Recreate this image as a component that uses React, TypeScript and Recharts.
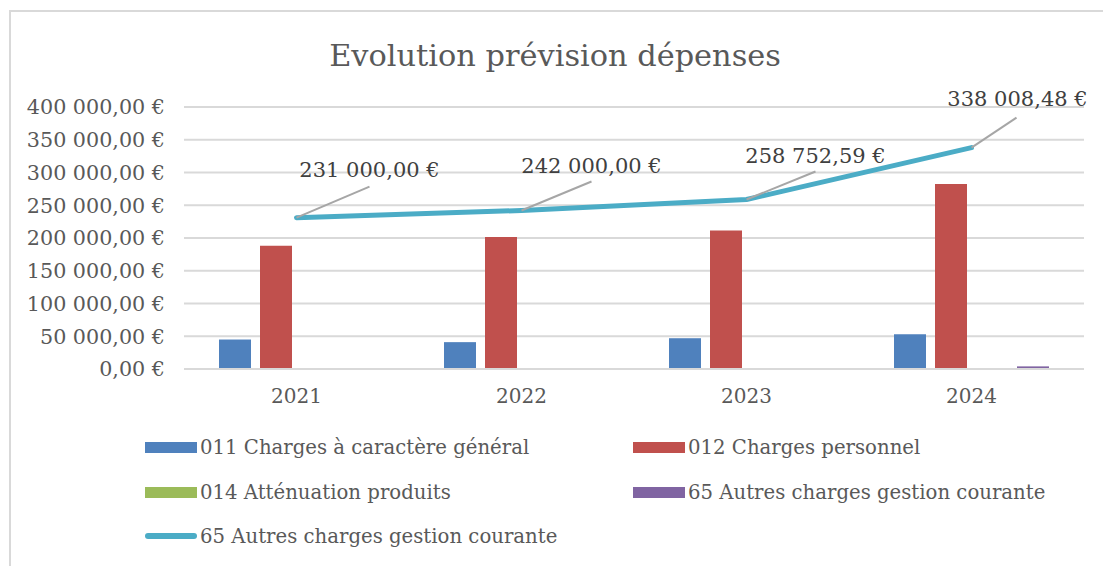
import { ComposedChart, Bar, Line, XAxis, YAxis, CartesianGrid, LabelList } from 'recharts'

const years = ['2021', '2022', '2023', '2024']
const chargesGenerales = [45000, 41000, 47000, 53000]
const chargesPersonnel = [188000, 201500, 211500, 282500]
const attenuationProduits = [0, 0, 0, 0]
const autresChargesBar = [0, 0, 0, 4000]
const autresChargesLine = [231000, 242000, 258752.59, 338008.48]
const yTicks = [0, 50000, 100000, 150000, 200000, 250000, 300000, 350000, 400000]

const seriesNames = [
  '011 Charges à caractère général',
  '012 Charges personnel',
  '014 Atténuation produits',
  '65 Autres charges gestion courante',
  '65 Autres charges gestion courante',
]
const colors = ['#4F81BD', '#C0504D', '#9BBB59', '#8064A2', '#4BACC6']

const data = years.map((year, i) => ({
  year,
  c011: chargesGenerales[i],
  c012: chargesPersonnel[i],
  c014: attenuationProduits[i],
  c65: autresChargesBar[i],
  c65line: autresChargesLine[i],
}))

const FONT = '"DejaVu Serif", Cambria, serif'

// french currency format: 231 000,00 €
const euro = (v: number) => {
  const [int, dec] = v.toFixed(2).split('.')
  return int.replace(/\B(?=(\d{3})+(?!\d))/g, ' ') + ',' + dec + ' €'
}

// leader-line label placement, one per point (like excel's dragged labels)
const labelOffsets = [
  { lx: 73, ly: -31, tx: 73, ty: -41 },
  { lx: 70, ly: -29, tx: 70, ty: -37 },
  { lx: 69, ly: -28, tx: 69, ty: -37 },
  { lx: 45, ly: -30, tx: 46, ty: -42 },
]

const LeaderLabel = (props: any) => {
  const { x, y, value, index } = props
  const o = labelOffsets[index] || labelOffsets[0]
  return (
    <g>
      <line x1={x} y1={y} x2={x + o.lx} y2={y + o.ly} stroke="#A6A6A6" strokeWidth={2} />
      <text
        x={x + o.tx}
        y={y + o.ty}
        textAnchor="middle"
        fontSize={21}
        fontFamily={FONT}
        fill="#404040"
      >
        {euro(value)}
      </text>
    </g>
  )
}

const legendRows = [
  [0, 1],
  [2, 3],
  [4],
]
const rowTops = [447, 492, 536]
const colLefts = [145, 633]

export default function App() {
  return (
    <div
      style={{
        position: 'absolute',
        left: 0,
        top: 0,
        width: 1103,
        height: 566,
        background: '#fff',
        overflow: 'hidden',
        fontFamily: FONT,
      }}
    >
      <div
        style={{
          position: 'absolute',
          left: 9,
          top: 10,
          width: 1103,
          height: 566,
          borderTop: '2px solid #D9D9D9',
          borderLeft: '2px solid #D9D9D9',
        }}
      />
      <div
        style={{
          position: 'absolute',
          left: 0,
          width: 1110,
          top: 36,
          textAlign: 'center',
          fontSize: 30.4,
          color: '#595959',
          lineHeight: '40px',
        }}
      >
        Evolution prévision dépenses
      </div>
      <div style={{ position: 'absolute', left: 0, top: 0 }}>
        <ComposedChart
          width={1103}
          height={430}
          data={data}
          margin={{ top: 107, right: 19, bottom: 21, left: 14 }}
          barSize={32}
          barGap={9}
        >
          <CartesianGrid vertical={false} stroke="#D9D9D9" strokeWidth={2} />
          <XAxis
            dataKey="year"
            height={40}
            tickLine={false}
            tickSize={0}
            tickMargin={20}
            axisLine={{ stroke: '#D9D9D9', strokeWidth: 2 }}
            tick={{ fontSize: 20, fill: '#595959', fontFamily: FONT }}
          />
          <YAxis
            width={170}
            domain={[0, 400000]}
            ticks={yTicks}
            interval={0}
            tickFormatter={euro}
            tickLine={false}
            axisLine={false}
            tickSize={0}
            tickMargin={19}
            tick={{ fontSize: 20.7, fill: '#595959', fontFamily: FONT }}
          />
          <Bar dataKey="c011" name={seriesNames[0]} fill={colors[0]} isAnimationActive={false} />
          <Bar dataKey="c012" name={seriesNames[1]} fill={colors[1]} isAnimationActive={false} />
          <Bar dataKey="c014" name={seriesNames[2]} fill={colors[2]} isAnimationActive={false} />
          <Bar dataKey="c65" name={seriesNames[3]} fill={colors[3]} isAnimationActive={false} />
          <Line
            dataKey="c65line"
            name={seriesNames[4]}
            type="linear"
            stroke={colors[4]}
            strokeWidth={5}
            strokeLinecap="round"
            strokeLinejoin="round"
            dot={false}
            activeDot={false}
            isAnimationActive={false}
          >
            <LabelList dataKey="c65line" content={LeaderLabel} />
          </Line>
        </ComposedChart>
      </div>
      {legendRows.map((row, r) =>
        row.map((s, c) => (
          <div
            key={`${r}-${c}`}
            style={{
              position: 'absolute',
              left: colLefts[c],
              top: rowTops[r] - 13,
              height: 26,
              display: 'flex',
              alignItems: 'center',
              fontSize: 19.7,
              color: '#595959',
              whiteSpace: 'nowrap',
            }}
          >
            <span
              style={{
                display: 'inline-block',
                width: 52,
                height: s === 4 ? 6 : 11,
                borderRadius: s === 4 ? 3 : 0,
                background: colors[s],
                marginRight: 3,
              }}
            />
            {seriesNames[s]}
          </div>
        ))
      )}
    </div>
  )
}
